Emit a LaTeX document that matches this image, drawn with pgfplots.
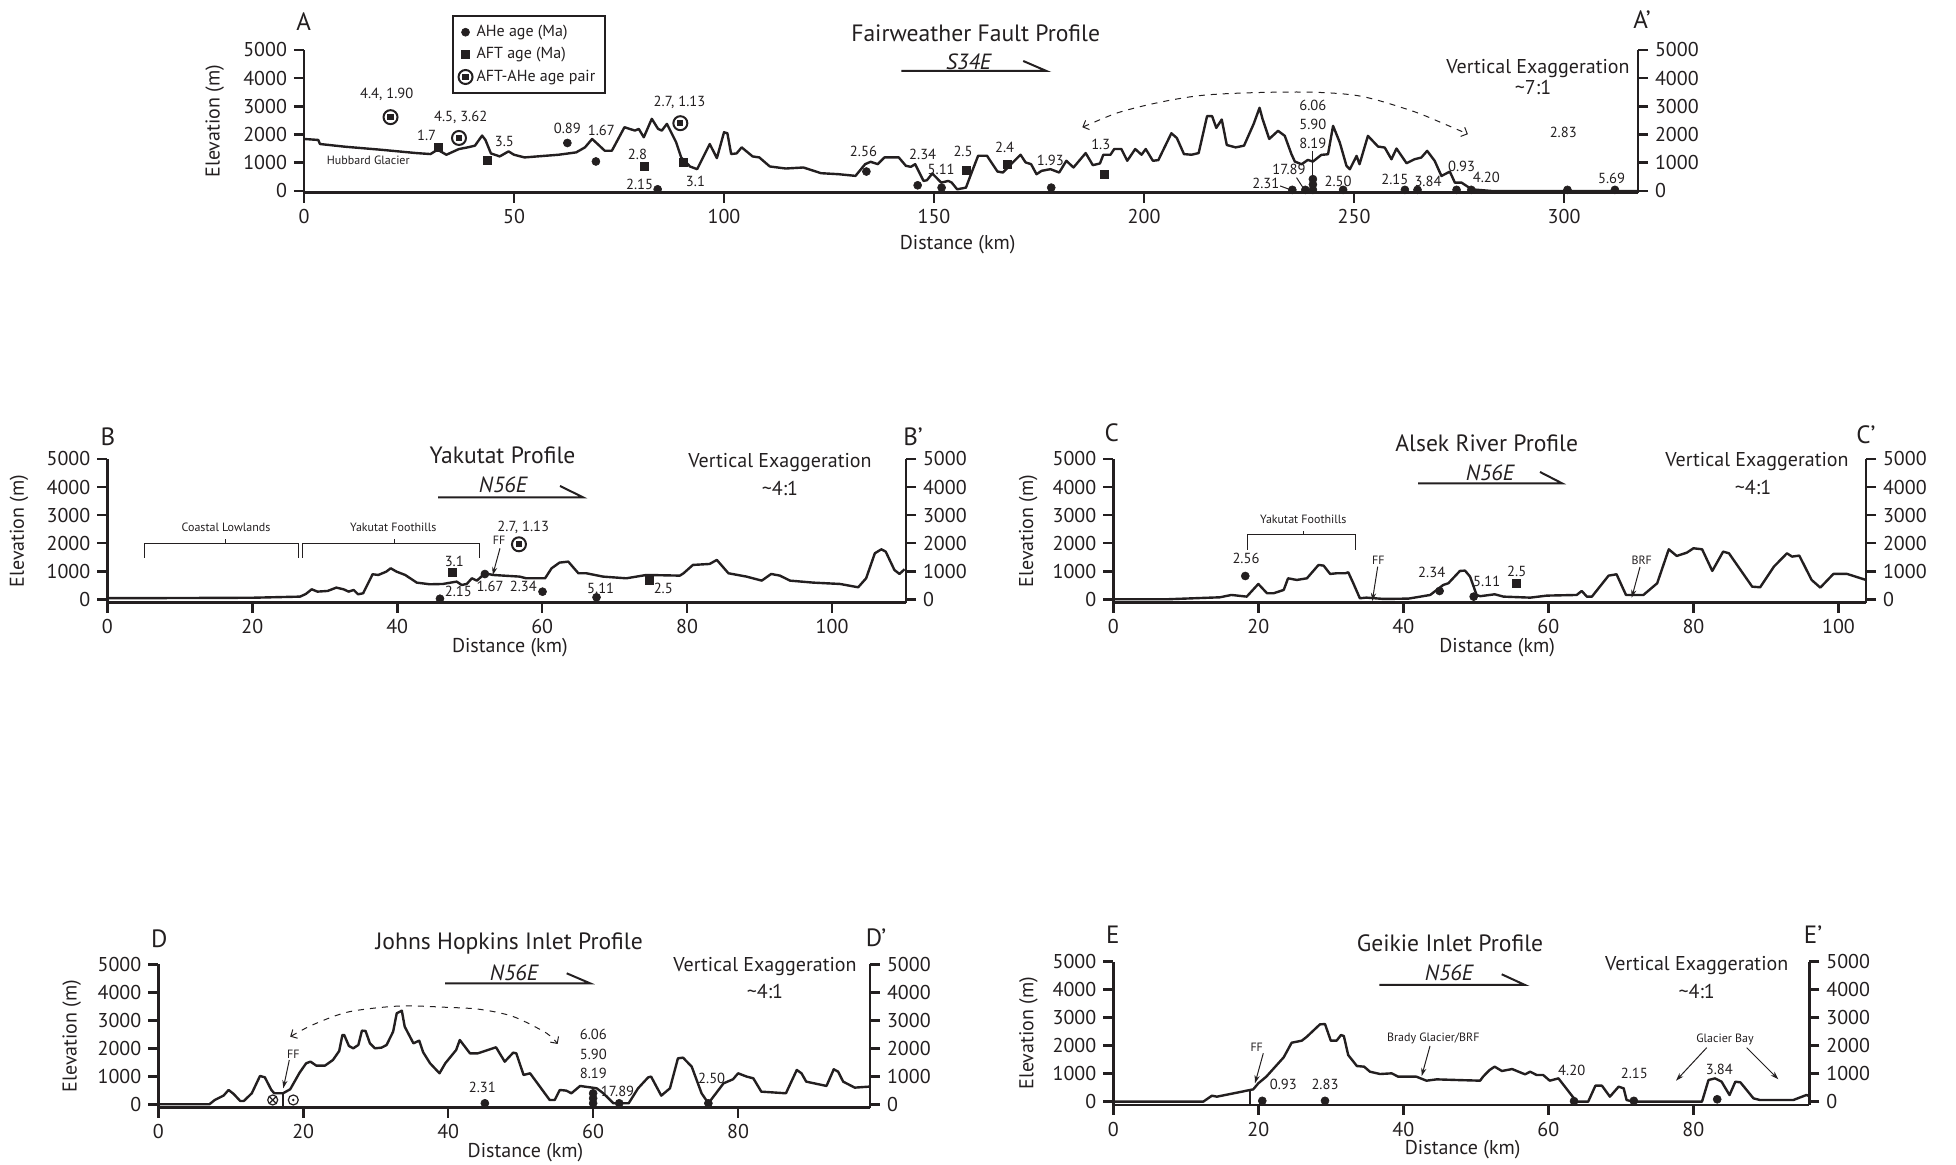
\documentclass[border=0pt]{standalone}
\usepackage{pgfplots}
\pgfplotsset{compat=1.18}
\usepackage{fontspec}
\setmainfont{PT Sans}
\usetikzlibrary{arrows.meta}
\definecolor{ink}{RGB}{35,31,32}
\newcommand{\fs}[1]{\fontsize{#1}{#1}\selectfont}

\pgfdeclareplotmark{pair}{%
  \pgfpathcircle{\pgfpointorigin}{\pgfplotmarksize}%
  \pgfusepathqstroke
  \pgfpathrectangle{\pgfpoint{-0.45\pgfplotmarksize}{-0.45\pgfplotmarksize}}{\pgfpoint{0.9\pgfplotmarksize}{0.9\pgfplotmarksize}}%
  \pgfusepathqfill
}

\pgfplotsset{
  profbase/.style={
    scale only axis, clip=false, xmin=0, ymax=5000,
    ytick={0,1000,2000,3000,4000,5000},
    tick align=outside, major tick length=5pt,
    axis line style={line width=1.3pt, ink},
    every tick/.style={line width=1.3pt, ink},
    tick label style={font=\fs{10}, text=ink},
    /pgf/number format/1000 sep={}, scaled ticks=false,
    /pgf/number format/assume math mode=true,
  },
  profmain/.style={profbase, axis x line*=bottom, axis y line*=left,
    xlabel={Distance (km)}, ylabel={Elevation (m)},
    every axis y label/.style={rotate=90, anchor=center, font=\fs{10}, text=ink},
    every axis x label/.style={anchor=center, font=\fs{10}, text=ink},
  },
  profright/.style={profbase, axis y line*=right, axis x line=none, xtick=\empty},
  prof/.style={line width=1.2pt, ink, line join=round, forget plot},
  ahe/.style={only marks, mark=*, mark size=2pt, ink, mark options={line width=0.3pt}},
  aft/.style={only marks, mark=square*, mark size=2pt, ink, mark options={line width=0.3pt}},
  pairs/.style={only marks, mark=pair, mark size=3.5pt, ink, mark options={line width=1pt}},
}

\begin{document}
\begin{tikzpicture}
\useasboundingbox (0,0) rectangle (978pt,582.5pt);

% ================= A =================
\begin{axis}[profmain, at={(152pt,486.15pt)}, anchor=south west,
  width=667pt, height=71.35pt, xmax=317.6, ymin=-60,
  xtick={0,50,100,150,200,250,300},
  ylabel style={at={(axis description cs:-0.067,0.5)}},
  xlabel style={at={(axis description cs:0.49,-0.363)}},
  legend style={at={(0.1106,1.245)}, anchor=north west, draw=ink, line width=1pt,
    font=\fs{8}, text=ink, inner xsep=3pt, inner ysep=2.5pt, row sep=0pt},
  legend cell align=left,
  legend image code/.code={\draw[mark repeat=2,mark phase=2,#1] plot coordinates {(0cm,0cm) (0.16cm,0cm) (0.32cm,0cm)};},
]
\addplot[prof] coordinates {
(0,1845) (3.4,1809) (3.8,1666) (9.7,1571) (18.2,1464) (26.7,1345) (30.1,1309) (31.8,1464)
(33.9,1285) (36.9,1488) (39.0,1547) (40.7,1607) (42.4,1964) (43.2,1809) (44.5,1333) (46.6,1226)
(48.7,1404) (50.0,1285) (52.5,1190) (60.6,1285) (64.8,1369) (66.9,1547) (68.6,1845) (69.9,1666)
(71.6,1428) (73.3,1428) (76.3,2261) (77.5,2202) (78.8,2142) (79.7,2202) (80.9,1904) (82.8,2559)
(84.3,2202) (85.2,2142) (86.4,2380) (88.6,1726) (89.8,1190) (91.9,869) (93.6,774) (96.6,1666)
(98.3,1166) (100.0,2083) (100.8,2047) (101.7,1309) (103.0,1333) (104.2,1547) (106.8,1226)
(108.4,1190) (110.9,869) (114.7,797) (118.9,833) (123.1,631) (127.3,595) (131.3,536) (133.6,952)
(134.9,1035) (136.6,952) (138.2,1190) (141.6,1190) (143.3,892) (144.5,857) (145.5,952) (147.5,357)
(148.3,381) (149.6,619) (151.7,298) (153.4,357) (154.2,298) (155.5,60) (157.6,119) (158.8,595)
(160.5,1250) (162.6,1250) (165.1,690) (166.4,655) (168.5,976) (170.6,1285) (171.8,1012) (173.1,952)
(174.4,595) (175.6,714) (177.7,774) (179.8,655) (181.5,1071) (183.2,833) (186.1,1345) (187.8,916)
(189.5,976) (190.3,1285) (192.0,1285) (192.9,1488) (194.6,1488) (196.0,1071) (197.9,1488) (199.4,1285)
(200.4,1488) (202.1,1071) (203.4,1095) (206.5,2047) (207.8,1880) (209.5,1309) (211.3,1285) (213.0,1345)
(215.0,2654) (216.2,2654) (217.2,2237) (218.5,2535) (219.7,1630) (221.8,1547) (223.8,1607) (226.1,2380)
(227.5,2951) (228.2,2559) (229.8,1845) (231.9,2133) (233.5,1955) (235.1,1303) (235.9,1043) (237.5,948)
(239.0,1102) (240.2,1043) (242.2,1280) (243.8,1303) (245.0,2311) (246.6,1718) (248.2,889) (249.0,770)
(250.6,1244) (251.3,948) (253.3,1955) (255.7,1576) (257.3,1540) (258.9,1126) (260.1,1505) (262.5,984)
(264.4,1126) (266.0,1185) (267.4,1422) (269.2,1066) (270.8,533) (272.8,687) (274.0,296) (275.6,296)
(278.0,59) (282.7,0) (317.5,0)
};
\addplot[ahe] coordinates {
(62.7,1702) (69.5,1047) (84.2,60) (133.9,690) (146.1,202) (151.8,119) (177.9,119)
(235.3,40) (238.4,40) (240.2,40) (240.2,230) (240.2,420) (247.4,40) (262.1,40) (265.1,40)
(274.4,40) (277.9,40) (300.8,40) (312.1,40)
};
\addlegendentry{AHe age (Ma)}
\addplot[aft] coordinates {
(32.0,1547) (43.6,1095) (80.9,892) (90.4,1012) (157.6,738) (167.5,952) (190.6,595)
};
\addlegendentry{AFT age (Ma)}
\addplot[pairs] coordinates {(20.6,2618) (36.9,1880) (89.6,2404)};
\addlegendentry{AFT-AHe age pair}
\begin{scope}[font=\fs{7.3}, text=ink]
\node at (axis cs:19.7,3427) {4.4, 1.90};
\node at (axis cs:29.2,1964) {1.7};
\node at (axis cs:37.3,2618) {4.5, 3.62};
\node at (axis cs:47.7,1761) {3.5};
\node at (axis cs:62.7,2202) {0.89};
\node at (axis cs:70.8,2166) {1.67};
\node at (axis cs:79.4,1309) {2.8};
\node at (axis cs:79.9,238) {2.15};
\node at (axis cs:89.4,3154) {2.7, 1.13};
\node at (axis cs:93.2,357) {3.1};
\node at (axis cs:133.2,1404) {2.56};
\node at (axis cs:147.3,1285) {2.34};
\node at (axis cs:151.7,774) {5.11};
\node at (axis cs:156.9,1404) {2.5};
\node at (axis cs:166.8,1547) {2.4};
\node at (axis cs:177.7,1071) {1.93};
\node at (axis cs:189.7,1666) {1.3};
\node at (axis cs:229.0,262) {2.31};
\node at (axis cs:234.5,770) {17.89};
\node at (axis cs:240.2,3022) {6.06};
\node at (axis cs:240.2,2370) {5.90};
\node at (axis cs:240.2,1683) {8.19};
\node at (axis cs:246.2,356) {2.50};
\node at (axis cs:259.7,415) {2.15};
\node at (axis cs:267.6,356) {3.84};
\node at (axis cs:275.6,889) {0.93};
\node at (axis cs:281.5,474) {4.20};
\node at (axis cs:299.8,2074) {2.83};
\node at (axis cs:311.3,450) {5.69};
\end{scope}
\node[font=\fs{6}, text=ink] at (axis cs:15.3,1095) {Hubbard Glacier};
\draw[ink, line width=0.5pt] (axis cs:232.4,178) -- (axis cs:234.8,48);
\draw[ink, line width=0.5pt] (axis cs:236.3,474) -- (axis cs:238.1,59);
\draw[ink, line width=0.5pt] (axis cs:240.2,1422) -- (axis cs:240.2,474);
\draw[ink, line width=0.5pt, dashed, {Straight Barb[length=2.5pt]}-{Straight Barb[length=2.5pt]}]
  plot[smooth] coordinates {(axis cs:185.3,2261) (axis cs:197.1,2916) (axis cs:213.9,3392)
  (axis cs:236.4,3510) (axis cs:251,3377) (axis cs:263.7,2844) (axis cs:271.6,2370) (axis cs:277.1,2015)};
\end{axis}
\begin{axis}[profright, at={(152pt,486.15pt)}, anchor=south west,
  width=667pt, height=71.35pt, xmax=317.6, ymin=-60]
\addplot[draw=none] coordinates {(0,0)};
\end{axis}

% ================= B =================
\begin{axis}[profmain, at={(53.65pt,281.15pt)}, anchor=south west,
  width=399.35pt, height=71.85pt, xmax=110.2, ymin=-121,
  xtick={0,20,40,60,80,100},
  ylabel style={at={(axis description cs:-0.1106,0.5)}},
  xlabel style={at={(axis description cs:0.504,-0.31)}},
]
\addplot[prof] coordinates {
(0,40) (10,45) (20,55) (26.6,95) (27.4,190) (28.2,356) (29.0,273) (30.4,297) (31.6,416) (32.6,356)
(33.3,273) (34.0,333) (34.6,178) (35.3,214) (36.6,891) (37.4,867) (38.5,986) (39.1,1105) (39.9,986)
(41.1,867) (42.7,594) (44.5,535) (46.3,546) (48.2,630) (48.9,511) (49.6,546) (50.3,748) (51.0,665)
(52.1,926) (53.2,867) (56.9,808) (57.8,748) (60.4,748) (61.3,1105) (62.4,1307) (63.6,1342) (65.0,927)
(66.1,927) (68.4,808) (71.6,748) (74.4,867) (79.0,843) (79.5,926) (80.8,1224) (83.1,1259) (84.1,1402)
(85.7,927) (88.2,808) (90.3,665) (91.6,903) (92.8,843) (94.2,665) (97.4,594) (101.1,546) (103.6,428)
(104.7,748) (105.9,1639) (106.8,1782) (107.4,1699) (108.6,1045) (109.3,903) (110.0,1069)
};
\addplot[ahe] coordinates {(45.9,20) (52.1,900) (60.05,271) (67.5,71)};
\addplot[aft] coordinates {(47.6,962) (74.8,663)};
\addplot[pairs] coordinates {(56.8,1960)};
\end{axis}
\begin{axis}[profright, at={(53.65pt,281.15pt)}, anchor=south west,
  width=399.35pt, height=71.85pt, xmax=110.2, ymin=-121]
\addplot[draw=none] coordinates {(0,0)};
\end{axis}

% ================= C =================
\begin{axis}[profmain, at={(556.65pt,281.15pt)}, anchor=south west,
  width=376.35pt, height=71.85pt, xmax=103.8, ymin=-121,
  xtick={0,20,40,60,80,100},
  ylabel style={at={(axis description cs:-0.113,0.5)}},
  xlabel style={at={(axis description cs:0.51,-0.31)}},
]
\addplot[prof] coordinates {
(0,0) (7.35,0) (14.7,71) (16.3,154) (18.4,95) (20.0,546) (21.2,214) (22.1,214) (23.5,333) (24.1,748)
(25.3,689) (26.7,748) (28.3,1224) (29.0,1200) (29.9,903) (30.8,927) (32.0,927) (32.4,962) (33.1,570)
(34.0,36) (34.9,59) (37.3,12) (40.7,24) (43.7,154) (45.5,511) (46.2,570) (47.8,1010) (48.5,1022)
(49.2,808) (50.1,154) (50.6,110) (52.6,178) (53.8,95) (57.5,59) (59.8,131) (63.9,154) (64.6,297)
(65.3,95) (66.0,95) (68.3,843) (69.4,891) (70.7,154) (73.1,154) (75.0,570) (76.6,1782) (77.7,1544)
(79.1,1663) (80.0,1818) (81.2,1782) (82.6,1010) (84.1,1699) (84.9,1639) (88.1,451) (89.2,428)
(91.1,1164) (92.9,1639) (93.6,1521) (94.6,1556) (96.3,689) (97.5,416) (99.3,903) (101.2,903) (103.8,689)
};
\addplot[ahe] coordinates {(18.2,830) (45.0,296) (49.7,95)};
\addplot[aft] coordinates {(55.6,570)};
\end{axis}
\begin{axis}[profright, at={(556.65pt,281.15pt)}, anchor=south west,
  width=376.35pt, height=71.85pt, xmax=103.8, ymin=-121]
\addplot[draw=none] coordinates {(0,0)};
\end{axis}

% ================= D =================
\begin{axis}[profmain, at={(79.15pt,28.65pt)}, anchor=south west,
  width=355.85pt, height=71.7pt, xmax=98.2, ymin=-121,
  xtick={0,20,40,60,80},
  ylabel style={at={(axis description cs:-0.1217,0.5)}},
  xlabel style={at={(axis description cs:0.516,-0.31)}},
]
\addplot[prof] coordinates {
(0,0) (7.04,0) (7.8,155) (9.0,309) (9.7,512) (10.4,369) (11.3,119) (11.8,119) (12.9,393) (14.03,1012)
(14.7,964) (15.6,512) (16.0,393) (17.2,393) (18.2,536) (19.5,1131) (20.4,1464) (21.0,1524) (21.8,1381)
(23.0,1381) (24.1,1583) (24.96,1904) (25.4,2475) (25.65,2475) (26.3,2083) (26.9,1999) (27.6,2118)
(28.1,2630) (28.6,2618) (29.2,2178) (29.9,1999) (30.8,2023) (31.5,2118) (32.4,2594) (32.9,3249)
(33.6,3344) (34.0,2773) (35.2,2178) (36.0,2273) (36.55,1856) (37.5,1464) (38.8,1107) (39.6,1464)
(41.1,1940) (41.6,2297) (43.0,1821) (44.1,1821) (46.6,2035) (47.8,1523) (48.97,1844) (49.4,1821)
(50.4,1047) (51.3,1107) (54.0,155) (54.7,155) (55.4,512) (56.3,488) (57.0,393) (58.2,655) (60.5,571)
(61.4,393) (62.8,36) (64.9,36) (66.2,571) (67.6,964) (68.0,988) (69.4,309) (70.6,571) (71.7,1642)
(72.4,1666) (73.6,1345) (74.96,393) (75.9,36) (76.6,274) (78.0,750) (79.3,893) (80.0,1107) (81.2,988)
(82.1,928) (83.2,452) (86.6,393) (88.1,1226) (88.75,1107) (89.4,809) (92.2,655) (93.2,1250) (93.8,1166)
(94.5,809) (96.1,595) (98.1,631)
};
\addplot[ahe] coordinates {(45.06,36) (60,36) (60,214) (60,393) (63.6,36) (75.9,36)};
\draw[ink, line width=0.5pt, dashed, {Straight Barb[length=2.5pt]}-{Straight Barb[length=2.5pt]}]
  plot[smooth] coordinates {(axis cs:18.2,2416) (axis cs:21.8,2892) (axis cs:26.4,3308)
  (axis cs:33.3,3510) (axis cs:39.8,3463) (axis cs:44.4,3390) (axis cs:49.0,3130) (axis cs:53.6,2535) (axis cs:55.1,2154)};
\end{axis}
\begin{axis}[profright, at={(79.15pt,28.65pt)}, anchor=south west,
  width=355.85pt, height=71.7pt, xmax=98.2, ymin=-121]
\addplot[draw=none] coordinates {(0,0)};
\end{axis}

% ================= E =================
\begin{axis}[profmain, at={(556.65pt,30pt)}, anchor=south west,
  width=348pt, height=71.65pt, xmax=96.0, ymin=-118,
  xtick={0,20,40,60,80},
  ylabel style={at={(axis description cs:-0.122,0.5)}},
  xlabel style={at={(axis description cs:0.502,-0.31)}},
]
\addplot[prof] coordinates {
(0,0) (12.4,0) (13.6,214) (14.3,179) (16.6,298) (18.85,417) (19.3,440) (20.0,655) (21.1,893)
(23.5,1583) (24.6,2106) (26.0,2178) (26.7,2321) (28.5,2761) (29.2,2773) (30.0,2178) (30.8,2178)
(31.4,2380) (31.8,2344) (32.4,1666) (33.6,1273) (34.6,1250) (35.4,1071) (36.8,988) (38.4,1012)
(39.3,893) (41.8,893) (43.2,750) (44.6,797) (47.4,774) (50.6,750) (51.0,893) (51.9,1131) (52.6,1250)
(53.6,1095) (55.0,1166) (56.8,976) (57.5,1071) (58.4,952) (59.3,952) (60.2,750) (61.4,833) (63.9,0)
(65.5,0) (66.5,571) (67.4,571) (68.5,179) (69.7,536) (70.4,476) (70.8,60) (71.7,0) (81.2,0) (82.1,774)
(83.0,833) (83.9,714) (85.0,238) (85.8,714) (86.5,690) (88.3,119) (89.2,60) (93.8,60) (95.6,238) (96.0,202)
};
\addplot[ahe] coordinates {(20.55,30) (29.2,30) (63.55,20) (71.8,30) (83.3,86)};
\end{axis}
\begin{axis}[profright, at={(556.65pt,30pt)}, anchor=south west,
  width=348pt, height=71.65pt, xmax=96.0, ymin=-118]
\addplot[draw=none] coordinates {(0,0)};
\end{axis}

% ================= annotations in pixel space =================
\begin{scope}[x=0.5pt, y=-0.5pt, yshift=582.5pt, text=ink]
% panel letters
\begin{scope}[font=\fs{12.5}]
\node at (303.6,22) {A}; \node at (1642,20) {A’};
\node at (108,436.7) {B}; \node at (913,436.7) {B’};
\node at (1111.7,433) {C}; \node at (1866,435) {C’};
\node at (159.3,938.3) {D}; \node at (876,938) {D’};
\node at (1112.7,935) {E}; \node at (1813,935) {E’};
\end{scope}
% titles
\begin{scope}[font=\fs{11.8}]
\node at (975.7,33.3) {Fairweather Fault Profile};
\node at (502.5,455) {Yakutat Profile};
\node at (1486.7,443.3) {Alsek River Profile};
\node at (509.2,943.3) {Johns Hopkins Inlet Profile};
\node at (1450,943.3) {Geikie Inlet Profile};
\end{scope}
% directions
\begin{scope}[font=\fs{11}\itshape]
\node at (968.6,61.7) {S34E};
\node at (503,485) {N56E};
\node at (1490,473) {N56E};
\node at (514,973.3) {N56E};
\node at (1449,973.3) {N56E};
\end{scope}
\begin{scope}[ink, line width=1pt]
\draw (901.4,71) -- (1046.4,71) -- (1023.2,61);
\draw (438,497.3) -- (583,497.3) -- (560,486);
\draw (1418,483.3) -- (1562,483.3) -- (1540,472);
\draw (445,983.3) -- (590,983.3) -- (566.7,973.3);
\draw (1379.3,985) -- (1525,985) -- (1501.7,974.3);
\end{scope}
% vertical exaggeration
\begin{scope}[font=\fs{10}]
\node at (1538,68.3) {Vertical Exaggeration}; \node at (1533,87.3) {\textasciitilde7:1};
\node at (780,463) {Vertical Exaggeration}; \node at (780,489) {\textasciitilde4:1};
\node at (1757,462) {Vertical Exaggeration}; \node at (1753,488) {\textasciitilde4:1};
\node at (765,966.7) {Vertical Exaggeration}; \node at (765,991.7) {\textasciitilde4:1};
\node at (1696.7,965.7) {Vertical Exaggeration}; \node at (1696.7,991.7) {\textasciitilde4:1};
\end{scope}
% brackets
\begin{scope}[ink, line width=0.5pt]
\draw (144.3,558) -- (144.3,543.3) -- (298.3,543.3) -- (298.3,558); \draw (225,543.3) -- (225,539);
\draw (302.7,558) -- (302.7,543.3) -- (479,543.3) -- (479,558); \draw (394.3,543.3) -- (394.3,539);
\draw (1247.7,550) -- (1247.7,535) -- (1355.7,535) -- (1355.7,550); \draw (1303.3,535) -- (1303.3,530.7);
\end{scope}
\begin{scope}[font=\fs{6}]
\node at (226,527.3) {Coastal Lowlands};
\node at (393.3,527.3) {Yakutat Foothills};
\node at (1303.3,519.3) {Yakutat Foothills};
\node at (499,540.7) {FF};
\node at (1378.3,560) {FF};
\node at (1641.7,560) {BRF};
\node at (293.3,1054) {FF};
\node at (1256.7,1047.3) {FF};
\node at (1433.3,1038.3) {Brady Glacier/BRF};
\node at (1725,1039.3) {Glacier Bay};
\end{scope}
% arrows
\begin{scope}[ink, line width=0.5pt, -{Stealth[length=4pt,width=2.6pt]}]
\draw (500,548.3) -- (492.7,575);
\draw (1377.7,566.7) -- (1372.3,601);
\draw (1640,567) -- (1631.7,597.7);
\draw (289.3,1060) -- (283.3,1088.3);
\draw (1263.3,1053.3) -- (1255,1083.3);
\draw (1430,1046) -- (1421.7,1076);
\draw (1706.7,1047.7) -- (1676,1080.7);
\draw (1746.7,1047.7) -- (1778.3,1079.3);
\end{scope}
% fault lines and symbols
\draw[ink, line width=1pt] (282.7,1094) -- (282.7,1107.7);
\draw[ink, line width=1pt] (1250,1090) -- (1250,1105);
\draw[ink, line width=0.6pt] (272.7,1100) circle (5);
\draw[ink, line width=0.6pt] (269.2,1096.5) -- (276.2,1103.5) (269.2,1103.5) -- (276.2,1096.5);
\draw[ink, line width=0.6pt] (293.3,1100) circle (5);
\fill[ink] (293.3,1100) circle (1.4);
% age labels B-E
\begin{scope}[font=\fs{7.3}]
\node at (454.3,561.7) {3.1};
\node at (458.3,591.7) {2.15};
\node at (490,586.7) {1.67};
\node at (523.3,527.3) {2.7, 1.13};
\node at (523.3,586) {2.34};
\node at (600.7,588.3) {5.11};
\node at (663.3,588.3) {2.5};
\node at (1246,558.3) {2.56};
\node at (1431.7,572.7) {2.34};
\node at (1486.7,581.7) {5.11};
\node at (1516.7,571) {2.5};
\node at (482.3,1087.7) {2.31};
\node at (593.3,1034.3) {6.06};
\node at (593.3,1054.3) {5.90};
\node at (593.3,1073.3) {8.19};
\node at (617.5,1091) {17.89};
\node at (711.7,1078.3) {2.50};
\node at (1283.3,1084.3) {0.93};
\node at (1325,1084.3) {2.83};
\node at (1571.7,1070) {4.20};
\node at (1634.3,1073.3) {2.15};
\node at (1719.3,1069.3) {3.84};
\end{scope}
\end{scope}
\end{tikzpicture}
\end{document}
